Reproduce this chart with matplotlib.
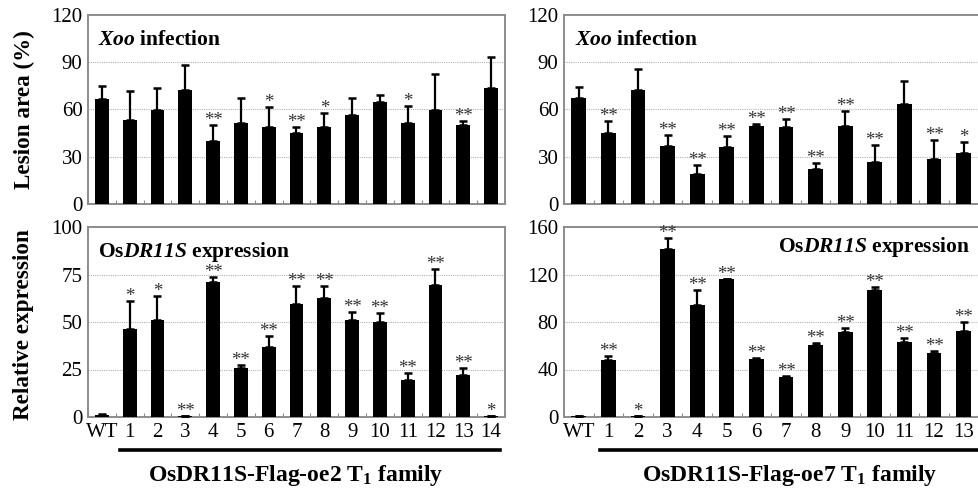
import matplotlib
matplotlib.use("Agg")
import matplotlib.pyplot as plt
import numpy as np

plt.rcParams['font.family'] = ['Liberation Serif', 'DejaVu Serif']
plt.rcParams['mathtext.fontset'] = 'custom'
plt.rcParams['mathtext.rm'] = 'Liberation Serif'
plt.rcParams['mathtext.it'] = 'Liberation Serif:italic'
plt.rcParams['mathtext.bf'] = 'Liberation Serif:bold'
plt.rcParams['mathtext.bfit'] = 'Liberation Serif:italic:bold'

# ---------------- data ----------------
labels_oe2 = ['WT', '1', '2', '3', '4', '5', '6', '7', '8', '9', '10', '11', '12', '13', '14']
labels_oe7 = ['WT', '1', '2', '3', '4', '5', '6', '7', '8', '9', '10', '11', '12', '13']

lesion_oe2 = [66.7, 53.1, 59.9, 72.4, 40.2, 51.2, 48.9, 44.9, 48.9, 56.3, 64.8, 51.2, 59.9, 50.4, 73.4]
lesion_oe2_err = [8.2, 18.9, 13.8, 15.6, 9.8, 15.9, 12.5, 4.0, 8.7, 11.0, 4.6, 10.8, 22.9, 2.3, 19.7]
lesion_oe2_sig = ['', '', '', '', '**', '', '*', '**', '*', '', '', '*', '', '**', '']

lesion_oe7 = [67.3, 45.3, 72.4, 36.8, 18.8, 36.2, 49.5, 48.9, 22.4, 49.5, 26.7, 63.3, 28.8, 32.4]
lesion_oe7_err = [7.2, 7.4, 13.1, 7.2, 6.2, 7.2, 1.0, 5.3, 3.8, 9.7, 11.0, 14.6, 11.8, 6.8]
lesion_oe7_sig = ['', '**', '', '**', '**', '**', '**', '**', '**', '**', '**', '', '**', '*']

expr_oe2 = [1.3, 46.4, 51.0, 0.6, 71.2, 25.7, 36.8, 59.5, 62.8, 51.0, 50.1, 19.5, 69.6, 22.3, 0.6]
expr_oe2_err = [0.2, 14.5, 12.9, 0.1, 2.3, 1.6, 5.9, 9.7, 5.9, 4.4, 4.6, 3.7, 8.5, 3.7, 0.1]
expr_oe2_sig = ['', '*', '*', '**', '**', '**', '**', '**', '**', '**', '**', '**', '**', '**', '*']

expr_oe7 = [1.0, 47.6, 1.0, 141.4, 94.3, 115.9, 48.7, 33.7, 60.9, 72.0, 107.1, 63.2, 53.8, 72.8]
expr_oe7_err = [0.2, 3.4, 0.2, 9.3, 12.7, 0.6, 0.6, 0.6, 1.7, 2.8, 2.2, 3.1, 1.4, 7.1]
expr_oe7_sig = ['', '**', '*', '**', '**', '**', '**', '**', '**', '**', '**', '**', '**', '**']

# ---------------- figure ----------------
W, H = 979, 491
fig = plt.figure(figsize=(W / 100, H / 100), dpi=100)

def rect(x0, y0, x1, y1):
    return [x0 / W, 1 - y1 / H, (x1 - x0) / W, (y1 - y0) / H]

ax_tl = fig.add_axes(rect(88, 15, 505, 204))
ax_bl = fig.add_axes(rect(88, 227, 505, 417))
ax_tr = fig.add_axes(rect(564, 15, 1008, 204))
ax_br = fig.add_axes(rect(564, 227, 1008, 417))

spine_c = '#8c8c8c'

def draw(ax, vals, errs, sigs, ymax, ystep, labels=None):
    x = np.arange(len(vals))
    ax.bar(x, vals, width=0.5, color='black', zorder=3)
    ax.errorbar(x, vals, yerr=[np.zeros(len(errs)), errs], fmt='none',
                ecolor='black', elinewidth=1.6, capsize=3.2, capthick=1.8, zorder=4)
    for xi, v, e, s in zip(x, vals, errs, sigs):
        if s:
            ax.annotate(s, (xi, v + e), xytext=(0, 0), textcoords='offset points',
                        ha='center', va='baseline', fontsize=13.5, color='#333333', zorder=5)
    ax.set_xlim(-0.5, 14.5)
    ax.set_ylim(0, ymax)
    ax.set_yticks(np.arange(0, ymax + 0.1, ystep))
    ax.tick_params(axis='y', length=0, labelsize=15, pad=4)
    ax.set_xticks(np.arange(-0.5, 14.6, 1.0), minor=True)
    ax.tick_params(axis='x', which='minor', direction='in', length=3, color=spine_c, width=0.8)
    if labels is None:
        ax.set_xticks([])
    else:
        ax.set_xticks(np.arange(len(labels)))
        ax.set_xticklabels(labels)
        ax.tick_params(axis='x', which='major', length=0, labelsize=15, pad=4)
    for yv in np.arange(ystep, ymax, ystep):
        ax.axhline(yv, color='#b4b4b4', lw=0.8, ls=(0, (1, 1)), zorder=1)
    for sp in ax.spines.values():
        sp.set_color(spine_c)
        sp.set_linewidth(1.4)

draw(ax_tl, lesion_oe2, lesion_oe2_err, lesion_oe2_sig, 120, 30)
draw(ax_tr, lesion_oe7, lesion_oe7_err, lesion_oe7_sig, 120, 30)
draw(ax_bl, expr_oe2, expr_oe2_err, expr_oe2_sig, 100, 25, labels_oe2)
draw(ax_br, expr_oe7, expr_oe7_err, expr_oe7_sig, 160, 40, labels_oe7)

# panel titles
xoo = r'$\mathbfit{Xoo}\ \mathbf{infection}$'
expr = r'$\mathbf{Os}\mathbfit{DR11S}\ \mathbf{expression}$'
for ax in (ax_tl, ax_tr):
    ax.text(0.025, 0.865, xoo, transform=ax.transAxes,
            fontsize=15.5, ha='left', va='center')
ax_bl.text(0.025, 0.87, expr, transform=ax_bl.transAxes,
           fontsize=15.5, ha='left', va='center')
fig.text(970 / W, 1 - 247 / H, expr, fontsize=15.5, ha='right', va='center')

# y labels
fig.text(24 / W, 1 - 110 / H, 'Lesion area (%)', rotation=90, fontsize=16.7,
         fontweight='bold', ha='center', va='center')
fig.text(24 / W, 1 - 325 / H, 'Relative expression', rotation=90, fontsize=16.7,
         fontweight='bold', ha='center', va='center')

# underline bars and family labels
fig.add_artist(plt.Line2D([120 / W, 500 / W], [1 - 450 / H] * 2, color='black', lw=2.6))
fig.add_artist(plt.Line2D([600 / W, 1.0], [1 - 450 / H] * 2, color='black', lw=2.6))
fig.text(296 / W, 1 - 475 / H, r'OsDR11S-Flag-oe2 T$_\mathbf{1}$ family', fontsize=17,
         fontweight='bold', ha='center', va='center')
fig.text(790 / W, 1 - 475 / H, r'OsDR11S-Flag-oe7 T$_\mathbf{1}$ family', fontsize=17,
         fontweight='bold', ha='center', va='center')

fig.savefig('out.png', dpi=100)
